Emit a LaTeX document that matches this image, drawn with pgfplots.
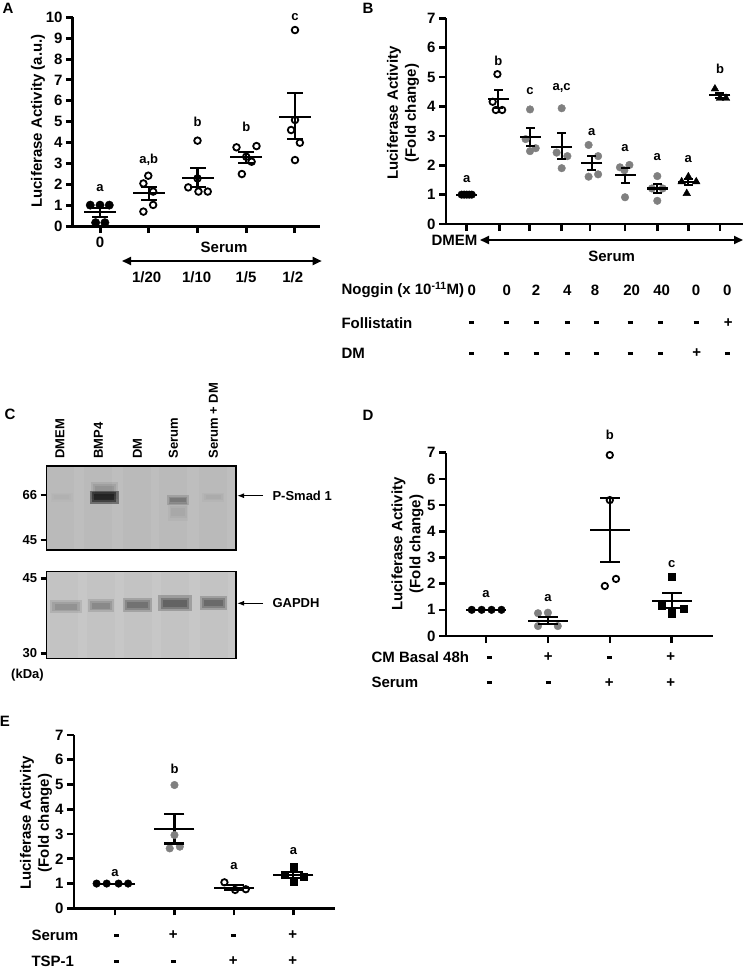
\documentclass[border=0pt]{standalone}
\usepackage{pgfplots}
\pgfplotsset{compat=1.18}
\usepackage{fontspec}
\setmainfont{Liberation Sans}
\usetikzlibrary{arrows.meta}

\definecolor{ptgray}{RGB}{128,128,128}
\definecolor{blot}{RGB}{190,190,190}
\definecolor{blotb}{RGB}{199,199,199}

\newcommand\fL{\fontsize{15}{18}\selectfont\bfseries}
\newcommand\fS{\fontsize{13}{15}\selectfont\bfseries}
\newcommand\mi{\rule{5pt}{2.7pt}}

% soft band of a blot: x centre, y, half width, thickness, opacity of each layer
\newcommand\band[5]{%
  \pgfmathsetmacro\xa{#1-#3}\pgfmathsetmacro\xb{#1+#3}%
  \pgfmathsetmacro\xc{#1-0.85*#3}\pgfmathsetmacro\xd{#1+0.85*#3}%
  \pgfmathsetmacro\xe{#1-0.7*#3}\pgfmathsetmacro\xf{#1+0.7*#3}%
  \pgfmathsetmacro\ta{#4}\pgfmathsetmacro\tb{0.7*#4}\pgfmathsetmacro\tc{0.45*#4}%
  \edef\tmp{%
    \noexpand\addplot[black, line width=\ta pt, opacity=#5] coordinates {(\xa,#2) (\xb,#2)};
    \noexpand\addplot[black, line width=\tb pt, opacity=#5] coordinates {(\xc,#2) (\xd,#2)};
    \noexpand\addplot[black, line width=\tc pt, opacity=#5] coordinates {(\xe,#2) (\xf,#2)};}%
  \tmp}

\pgfplotsset{
  panel/.style={anchor=south west, scale only axis, axis lines*=left,
    enlargelimits=false, clip=false, tick align=outside, major tick length=7pt,
    axis line style={line width=2.6pt}, tick style={line width=2.6pt, black},
    xticklabels={}, yticklabel style={font=\fL},
    /pgf/number format/assume math mode=true, ymin=0, minor tick num=0},
  blotax/.style={anchor=south west, scale only axis, enlargelimits=false,
    axis line style={line width=1.3pt}, xtick=\empty, ytick pos=left,
    tick align=outside, major tick length=6pt, tick style={line width=2.6pt, black},
    yticklabel style={font=\fS}, /pgf/number format/assume math mode=true},
  mn/.style={black, only marks, mark=-, mark options={solid, line width=2.1pt}},
  eb/.style={black, line width=2.1pt, mark=-, mark options={solid, line width=2.1pt}},
  opn/.style={only marks, mark=o, mark size=3.3pt, mark options={line width=1.8pt, draw=black}},
  blk/.style={only marks, mark=*, mark size=4.2pt, mark options={draw=black, fill=black}},
  gry/.style={only marks, mark=*, mark size=3.8pt, mark options={draw=ptgray, fill=ptgray}},
  tri/.style={only marks, mark=triangle*, mark size=4.4pt, mark options={draw=black, fill=black}},
  sqr/.style={only marks, mark=square*, mark size=3.6pt, mark options={draw=black, fill=black}},
}

\begin{document}
\begin{tikzpicture}
\path[use as bounding box] (0pt,0pt) rectangle (745pt,-969pt);

% ---------------- A
\begin{axis}[panel, at={(73pt,-226pt)}, width=247pt, height=208.7pt,
  xmin=-0.554, xmax=4.513, ymax=10, ytick={0,1,...,10}, xtick={0,1,2,3,4},
  axis line style={line width=3pt}, tick style={line width=3pt}]
\addplot[blk] coordinates {(-0.2,1.0) (0,1.0) (0.19,1.0) (-0.09,0.16) (0.1,0.16)};
\addplot[opn] coordinates {(0.99,2.41) (0.89,2.04) (1.09,1.65) (1.09,1.01) (0.89,0.69)};
\addplot[opn] coordinates {(2,4.09) (2,2.28) (1.81,1.85) (2.02,1.65) (2.21,1.65)};
\addplot[opn] coordinates {(2.8,3.77) (3.21,3.83) (3,3.32) (3.11,3.08) (2.91,2.49)};
\addplot[opn] coordinates {(4,9.39) (4,5.08) (3.92,4.6) (4.1,3.99) (4,3.16)};
\addplot[mn, mark size=16pt] coordinates {(0,0.65) (1,1.57) (2,2.32) (3,3.29) (4,5.24)};
\addplot[eb, mark size=8pt] coordinates {(0,0.45) (0,0.85)};
\addplot[eb, mark size=8pt] coordinates {(1,1.25) (1,1.88)};
\addplot[eb, mark size=8pt] coordinates {(2,1.88) (2,2.76)};
\addplot[eb, mark size=8pt] coordinates {(3,3.03) (3,3.56)};
\addplot[eb, mark size=8pt] coordinates {(4,4.15) (4,6.36)};
\node[font=\fS] at (axis cs:0,1.84) {a};
\node[font=\fS] at (axis cs:1,3.16) {a,b};
\node[font=\fS] at (axis cs:2,5.0) {b};
\node[font=\fS] at (axis cs:3,4.76) {b};
\node[font=\fS] at (axis cs:4,10.02) {c};
\end{axis}

% ---------------- B
\begin{axis}[panel, at={(446pt,-224pt)}, width=297pt, height=205.67pt,
  xmin=-0.654, xmax=8.727, ymax=7, ytick={0,...,7},
  xtick={0,1.03,1.98,3,3.9,5,6.02,7,8}]
\addplot[blk, mark size=3.8pt] coordinates {(-0.16,1) (-0.08,1) (0,1) (0.08,1) (0.16,1)};
\addplot[opn, mark size=3.2pt] coordinates {(0.97,5.1) (0.82,4.16) (0.92,3.88) (1.12,3.88)};
\addplot[gry] coordinates {(2,3.9) (1.86,2.89) (2.18,2.58) (2,2.48)};
\addplot[gry] coordinates {(3,3.94) (2.84,2.43) (3.18,2.31) (3,1.9)};
\addplot[gry] coordinates {(3.85,2.69) (4.15,2.31) (3.85,1.61) (4.15,1.69)};
\addplot[gry] coordinates {(4.84,1.93) (5.14,2.01) (4.98,1.83) (5,0.91)};
\addplot[gry] coordinates {(6.02,1.63) (5.85,1.21) (6.19,1.21) (6.02,0.79)};
\addplot[tri] coordinates {(7,1.61) (6.79,1.44) (7.25,1.44) (6.95,1.04)};
\addplot[tri] coordinates {(7.84,4.6) (8,4.28) (8.19,4.28)};
\addplot[mn, mark size=10.5pt] coordinates {(0,1.0) (1,4.25) (2,2.97) (3,2.63) (3.95,2.08) (5,1.67) (6.02,1.21) (7,1.42) (8,4.39)};
\addplot[eb, mark size=4.5pt] coordinates {(1,3.95) (1,4.56)};
\addplot[eb, mark size=4.5pt] coordinates {(2,2.65) (2,3.28)};
\addplot[eb, mark size=4.5pt] coordinates {(3,2.2) (3,3.09)};
\addplot[eb, mark size=4.5pt] coordinates {(3.95,1.84) (3.95,2.31)};
\addplot[eb, mark size=4.5pt] coordinates {(5,1.41) (5,1.9)};
\addplot[eb, mark size=4.5pt] coordinates {(6.02,1.07) (6.02,1.35)};
\addplot[eb, mark size=4.5pt] coordinates {(7,1.32) (7,1.52)};
\addplot[eb, mark size=4.5pt] coordinates {(8,4.28) (8,4.47)};
\node[font=\fS] at (axis cs:0,1.52) {a};
\node[font=\fS] at (axis cs:1,5.55) {b};
\node[font=\fS] at (axis cs:2,4.54) {c};
\node[font=\fS] at (axis cs:3,4.62) {a,c};
\node[font=\fS] at (axis cs:3.95,3.14) {a};
\node[font=\fS] at (axis cs:5,2.58) {a};
\node[font=\fS] at (axis cs:6.02,2.27) {a};
\node[font=\fS] at (axis cs:7,2.21) {a};
\node[font=\fS] at (axis cs:8,5.27) {b};
\end{axis}

% ---------------- C (blots)
\begin{axis}[blotax, at={(46.7pt,-550pt)}, width=189.3pt, height=84pt,
  xmin=0, xmax=189.3, ymin=0, ymax=84, ytick={10,55}, yticklabels={45,66},
  axis background/.style={fill=blot}]
\addplot[black, opacity=0.02, line width=28pt] coordinates {(13.3,0) (13.3,84)};
\addplot[black, opacity=0.02, line width=28pt] coordinates {(51.6,0) (51.6,84)};
\addplot[black, opacity=0.02, line width=28pt] coordinates {(90.6,0) (90.6,84)};
\addplot[black, opacity=0.02, line width=28pt] coordinates {(126.6,0) (126.6,84)};
\addplot[black, opacity=0.02, line width=28pt] coordinates {(166.6,0) (166.6,84)};
\band{57.4}{60}{13.5}{17}{0.07}
\band{57.4}{53}{14.5}{13}{0.4}
\band{131.3}{38}{10}{18}{0.03}
\band{131.3}{50}{11}{10}{0.13}
\band{166.5}{53}{11}{9}{0.025}
\band{15}{53}{11}{9}{0.015}
\end{axis}

\begin{axis}[blotax, at={(46.7pt,-658.3pt)}, width=189.3pt, height=86.6pt,
  xmin=0, xmax=189.3, ymin=0, ymax=86.6, ytick={5,80}, yticklabels={30,45},
  axis background/.style={fill=blotb}]
\addplot[black, opacity=0.02, line width=28pt] coordinates {(17,0) (17,86.6)};
\addplot[black, opacity=0.02, line width=28pt] coordinates {(54.3,0) (54.3,86.6)};
\addplot[black, opacity=0.02, line width=28pt] coordinates {(90.8,0) (90.8,86.6)};
\addplot[black, opacity=0.02, line width=28pt] coordinates {(128.3,0) (128.3,86.6)};
\addplot[black, opacity=0.02, line width=28pt] coordinates {(166.8,0) (166.8,86.6)};
\band{19.3}{51.6}{16}{13}{0.09}
\band{54.3}{52.6}{13}{13}{0.11}
\band{90.8}{53.3}{14.5}{14}{0.16}
\band{128.3}{55}{17}{16}{0.2}
\band{166.8}{55.6}{13.5}{14}{0.18}
\end{axis}

% ---------------- D
\begin{axis}[panel, at={(446pt,-636pt)}, width=267pt, height=183.3pt,
  xmin=-0.646, xmax=3.667, ymax=7, ytick={0,...,7}, xtick={0,1,2,3}]
\addplot[blk, mark size=3.8pt] coordinates {(-0.23,1) (-0.07,1) (0.09,1) (0.25,1)};
\addplot[gry] coordinates {(0.84,0.87) (1.0,0.89) (0.84,0.38) (1.16,0.38)};
\addplot[opn, mark size=3.2pt] coordinates {(2,6.91) (2,5.19) (1.92,1.91) (2.1,2.18)};
\addplot[sqr] coordinates {(3.0,2.27) (2.84,1.15) (3.19,1.03) (3.0,0.87)};
\addplot[mn, mark size=20pt] coordinates {(0,1.0) (1,0.59) (2,4.05) (3,1.34)};
\addplot[eb, mark size=10pt] coordinates {(1,0.46) (1,0.74)};
\addplot[eb, mark size=10pt] coordinates {(2,2.84) (2,5.26)};
\addplot[eb, mark size=10pt] coordinates {(3,1.06) (3,1.65)};
\node[font=\fS] at (axis cs:0,1.59) {a};
\node[font=\fS] at (axis cs:1,1.44) {a};
\node[font=\fS] at (axis cs:2,7.67) {b};
\node[font=\fS] at (axis cs:3,2.75) {c};
\end{axis}

% ---------------- E
\begin{axis}[panel, at={(74pt,-908.3pt)}, width=261pt, height=173.3pt,
  xmin=-0.69, xmax=3.70, ymax=7, ytick={0,...,7}, xtick={0,1,2,3}]
\addplot[blk, mark size=3.8pt] coordinates {(-0.31,1) (-0.14,1) (0.06,1) (0.22,1)};
\addplot[gry] coordinates {(1,4.98) (1,2.96) (0.92,2.42) (1.09,2.49)};
\addplot[opn, mark size=3.2pt] coordinates {(1.84,1.05) (2.02,0.74) (2.2,0.77)};
\addplot[sqr] coordinates {(3,1.68) (2.86,1.35) (3.17,1.28) (3,1.08)};
\addplot[mn, mark size=20pt] coordinates {(0,1.0) (1,3.2) (2,0.83) (3,1.35)};
\addplot[eb, mark size=10pt] coordinates {(1,2.62) (1,3.81)};
\addplot[eb, mark size=10pt] coordinates {(2,0.74) (2,0.94)};
\addplot[eb, mark size=10pt] coordinates {(3,1.21) (3,1.48)};
\node[font=\fS] at (axis cs:0,1.41) {a};
\node[font=\fS] at (axis cs:1,5.63) {b};
\node[font=\fS] at (axis cs:2,1.71) {a};
\node[font=\fS] at (axis cs:3,2.33) {a};
\end{axis}

% ---------------- texts
\begin{scope}[every node/.style={font=\fL}]
\node at (8pt,-8pt) {A};
\node at (368pt,-8pt) {B};
\node at (10pt,-414pt) {C};
\node at (368pt,-415pt) {D};
\node at (5pt,-721pt) {E};

\node[rotate=90] at (38pt,-121pt) {Luciferase Activity (a.u.)};
\node[rotate=90, align=center] at (403pt,-113pt) {Luciferase Activity\\(Fold change)};
\node[rotate=90, align=center] at (407.5pt,-544pt) {Luciferase Activity\\(Fold change)};
\node[rotate=90, align=center] at (36pt,-823pt) {Luciferase Activity\\(Fold change)};

% A below axis
\node at (100pt,-242.7pt) {0};
\node at (224pt,-247pt) {Serum};
\draw[line width=1.8pt, {Triangle[length=9pt,width=8pt]}-{Triangle[length=9pt,width=8pt]}] (122pt,-261pt) -- (321.7pt,-261pt);
\node at (146.7pt,-277.7pt) {1/20};
\node at (196.7pt,-277.7pt) {1/10};
\node at (246pt,-277.7pt) {1/5};
\node at (292.7pt,-277.7pt) {1/2};

% B below axis
\node[anchor=east] at (481pt,-240.7pt) {DMEM};
\draw[line width=1.8pt, {Triangle[length=9pt,width=8pt]}-{Triangle[length=9pt,width=8pt]}] (480pt,-240pt) -- (743pt,-240pt);
\node at (611.7pt,-256pt) {Serum};
\node[anchor=west] at (338pt,-290pt) {Noggin (x 10\textsuperscript{-11}M)};
\foreach \x/\t in {471.7/0, 506.7/0, 536/2, 567.3/4, 595/8, 631.7/20, 661.7/40, 696/0, 727.3/0}
  \node at (\x pt,-290pt) {\t};
\node[anchor=west] at (338pt,-322.7pt) {Follistatin};
\foreach \x/\t in {471.7/\mi, 506/\mi, 536/\mi, 567.3/\mi, 596/\mi, 630/\mi, 660.7/\mi, 696/\mi, 728.3/+}
  \node at (\x pt,-322.7pt) {\t};
\node[anchor=west] at (338pt,-353.3pt) {DM};
\foreach \x/\t in {471.7/\mi, 506/\mi, 536/\mi, 567.3/\mi, 596/\mi, 630/\mi, 660.7/\mi, 696.7/+, 727.3/\mi}
  \node at (\x pt,-353.3pt) {\t};

% D below axis
\node[anchor=west] at (368pt,-657.3pt) {CM Basal 48h};
\foreach \x/\t in {489.3/\mi, 548.3/+, 609.3/\mi, 670.7/+}
  \node at (\x pt,-657.3pt) {\t};
\node[anchor=west] at (368pt,-682.7pt) {Serum};
\foreach \x/\t in {489.3/\mi, 548.3/\mi, 609.3/+, 670.7/+}
  \node at (\x pt,-682.7pt) {\t};

% E below axis
\node[anchor=west] at (28pt,-935.5pt) {Serum};
\foreach \x/\t in {116.7/\mi, 173.3/+, 233.3/\mi, 292.7/+}
  \node at (\x pt,-935.5pt) {\t};
\node[anchor=west] at (28pt,-961.5pt) {TSP-1};
\foreach \x/\t in {116.7/\mi, 173.3/\mi, 233.3/+, 292.7/+}
  \node at (\x pt,-961.5pt) {\t};
\end{scope}

% C labels
\begin{scope}[every node/.style={font=\fS}]
\node[rotate=90, anchor=west] at (60pt,-462pt) {DMEM};
\node[rotate=90, anchor=west] at (98.3pt,-462pt) {BMP4};
\node[rotate=90, anchor=west] at (137.3pt,-462pt) {DM};
\node[rotate=90, anchor=west] at (173.3pt,-462pt) {Serum};
\node[rotate=90, anchor=west] at (213.3pt,-462pt) {Serum + DM};
\node at (27.5pt,-675pt) {(kDa)};
\draw[line width=1.2pt, -{Latex[length=7pt,width=5pt]}] (263pt,-495.7pt) -- (237pt,-495.7pt);
\node[anchor=west] at (269pt,-495.7pt) {P-Smad 1};
\draw[line width=1.2pt, -{Latex[length=7pt,width=5pt]}] (263pt,-603.3pt) -- (237pt,-603.3pt);
\node[anchor=west] at (269pt,-603.3pt) {GAPDH};
\end{scope}
\end{tikzpicture}
\end{document}
